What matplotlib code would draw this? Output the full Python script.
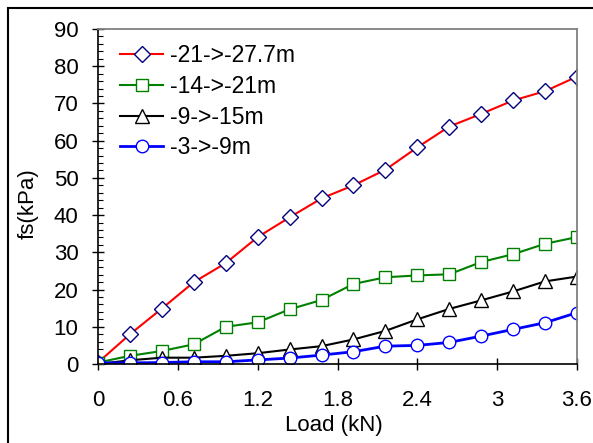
import numpy as np
import matplotlib
matplotlib.use('Agg')
import matplotlib.pyplot as plt
from matplotlib.patches import Rectangle
from matplotlib.ticker import MultipleLocator

plt.rcParams['font.family'] = ['Liberation Sans', 'DejaVu Sans']

#%% data
load = [0, 0.24, 0.48, 0.72, 0.96, 1.2, 1.44, 1.68, 1.92, 2.16, 2.4, 2.64, 2.88, 3.12, 3.36, 3.6]
fs_21_277 = [0.4, 8.0, 14.9, 22.0, 27.1, 34.1, 39.4, 44.5, 48.0, 52.2, 58.2, 63.8, 67.2, 70.8, 73.3, 77.2]
fs_14_21 = [0.4, 2.2, 3.5, 5.3, 10.0, 11.2, 14.7, 17.2, 21.5, 23.3, 23.8, 24.1, 27.4, 29.5, 32.3, 34.1]
fs_9_15 = [0.0, 1.0, 1.7, 1.7, 2.2, 2.9, 3.9, 4.8, 6.6, 8.9, 12.0, 14.8, 17.1, 19.5, 22.2, 23.5]
fs_3_9 = [0.3, 0.3, 0.4, 0.6, 0.6, 1.1, 1.6, 2.4, 3.3, 4.8, 5.0, 5.8, 7.5, 9.3, 11.1, 13.8]
labels = ['-21->-27.7m', '-14->-21m', '-9->-15m', '-3->-9m']
xticks = [0, 0.6, 1.2, 1.8, 2.4, 3, 3.6]
xticklabels = ['0', '0.6', '1.2', '1.8', '2.4', '3', '3.6']

#%% figure
fig = plt.figure(figsize=(5.93, 4.43), dpi=100)
ax = fig.add_axes([0.1653, 0.1783, 0.8077, 0.7562])

ax.plot(load, fs_21_277, color='#FF0000', lw=1.5, marker='D', ms=8.4,
        mfc='white', mec='#000080', mew=1.0, label=labels[0])
ax.plot(load, fs_14_21, color='#008000', lw=1.5, marker='s', ms=9,
        mfc='white', mec='#008000', mew=1.0, label=labels[1])
ax.plot(load, fs_9_15, color='black', lw=1.5, marker='^', ms=9.5,
        mfc='white', mec='black', mew=1.0, label=labels[2])
ax.plot(load, fs_3_9, color='#0000FF', lw=2, marker='o', ms=9,
        mfc='white', mec='#0000FF', mew=1.0, label=labels[3])

ax.set_xlim(0, 3.6)
ax.set_ylim(0, 90)
ax.set_xticks(xticks)
ax.set_xticklabels(xticklabels)
ax.yaxis.set_major_locator(MultipleLocator(10))
ax.yaxis.set_minor_locator(MultipleLocator(2))

ax.tick_params(axis='both', which='major', direction='inout', length=8,
               width=1, labelsize=16, colors='black')
ax.tick_params(axis='x', which='major', length=9, pad=14)
ax.tick_params(axis='y', which='major', pad=10)
ax.tick_params(axis='y', which='minor', direction='in', length=3.5, width=0.8)

for s in ['top', 'right']:
    ax.spines[s].set_color('#808080')
    ax.spines[s].set_linewidth(1.3)
for s in ['left', 'bottom']:
    ax.spines[s].set_color('black')
    ax.spines[s].set_linewidth(1.2)

ax.set_xlabel('Load (kN)', fontsize=16)
ax.set_ylabel('fs(kPa)', fontsize=16)
ax.xaxis.set_label_coords(0.493, -0.185)
ax.xaxis.label.set_va('center')
ax.yaxis.set_label_coords(-0.146, 0.478)
ax.yaxis.label.set_va('center')

leg = ax.legend(loc='upper left', bbox_to_anchor=(0.03, 0.978), frameon=False,
                fontsize=16.5, handlelength=1.85, handletextpad=0.3,
                labelspacing=0.33, borderaxespad=0, borderpad=0.35)

# outer frame of the original figure
fig.patches.append(Rectangle((8 / 593, -0.2), 1.2, 1.2 - 8 / 443,
                             transform=fig.transFigure, fill=False,
                             edgecolor='black', lw=1.5))

fig.savefig('out.png', dpi=100)
